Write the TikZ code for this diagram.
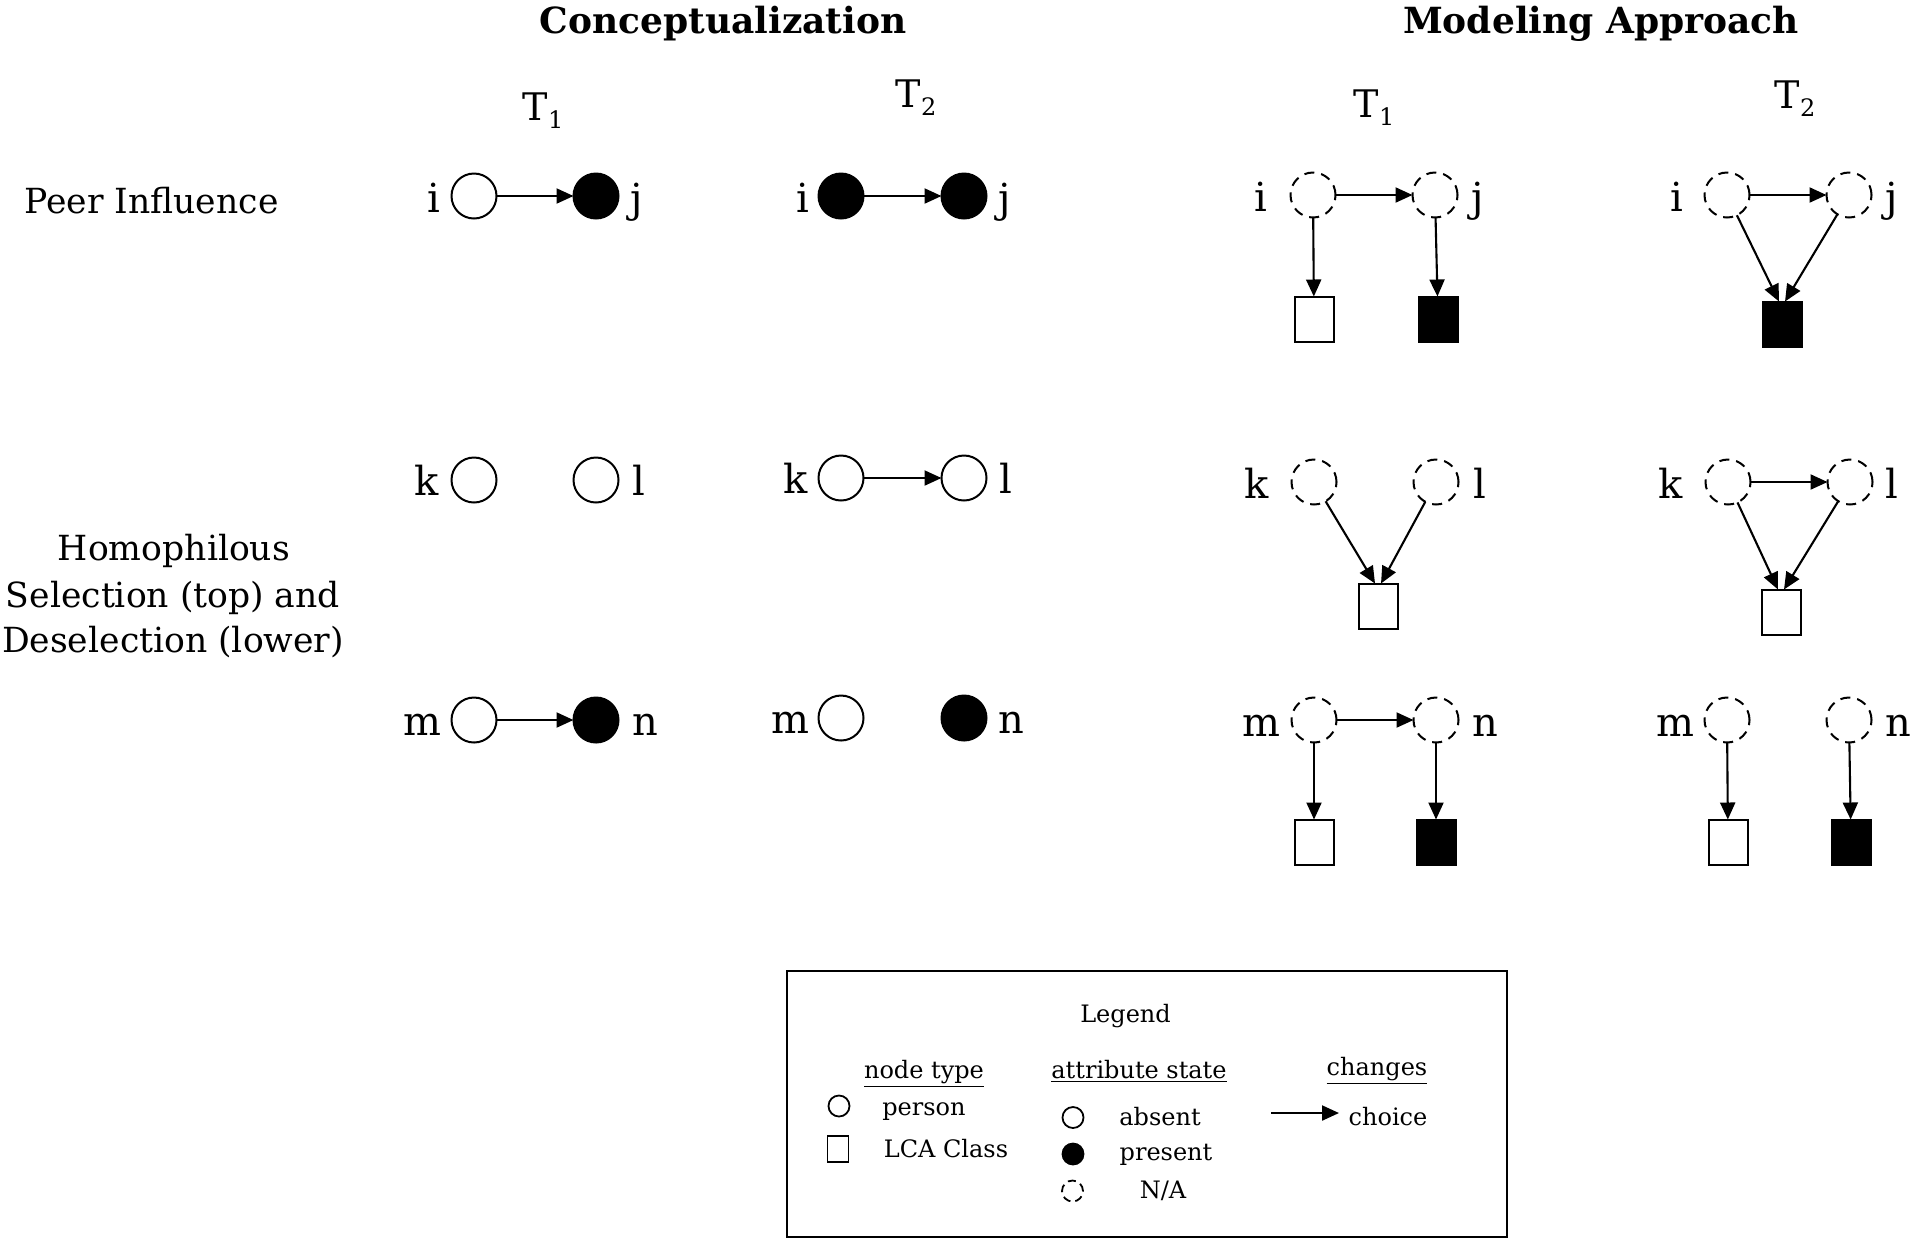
\documentclass[tikz,border=0pt]{standalone}
\usepackage{fontspec}
\setmainfont{DejaVu Serif}
\usetikzlibrary{arrows.meta}
\newcommand\Tsub[1]{T\lower4pt\hbox{\fontsize{12}{12}\selectfont #1}}
\begin{document}
\begin{tikzpicture}[x=0.5pt,y=-0.5pt,
  every node/.style={inner sep=0pt, outer sep=0pt},
  per/.style={circle, draw, line width=1pt, minimum size=22.5pt},
  opn/.style={per, fill=white},
  fil/.style={per, fill=black},
  na/.style={per, dash pattern=on 5pt off 3.5pt},
  cls/.style={rectangle, draw, line width=1pt, minimum width=19.5pt, minimum height=22.5pt},
  clsopen/.style={cls, fill=white},
  clsfil/.style={cls, fill=black},
  arr/.style={-{Triangle[length=8.5pt,width=7.5pt]}, line width=1.05pt},
  head/.style={font=\fontsize{18}{18}\selectfont\bfseries, anchor=base},
  tlab/.style={font=\fontsize{19}{19}\selectfont, anchor=base},
  rowlab/.style={font=\fontsize{17.3}{17.3}\selectfont, anchor=base},
  lab/.style={font=\fontsize{20}{20}\selectfont, anchor=base},
  leg/.style={font=\fontsize{12}{12}\selectfont, anchor=base},
  lcirc/.style={circle, draw, line width=0.9pt, minimum size=10.5pt},
]
\useasboundingbox (0,0) rectangle (1920,1244);

% headings
\node[head] (hc) at (723,33) {Conceptualization};
\node[head] (hm) at (1601,33) {Modeling Approach};
\node[tlab] (t1c) at (543,120) {\Tsub{1}};
\node[tlab] (t2c) at (916,107) {\Tsub{2}};
\node[tlab] (t1m) at (1374,117) {\Tsub{1}};
\node[tlab] (t2m) at (1795,108) {\Tsub{2}};

% row labels
\node[rowlab] (rp) at (151.5,213) {Peer Influence};
\node[rowlab] (h1) at (174,560) {Homophilous};
\node[rowlab] (h2) at (173,607) {Selection (top) and};
\node[rowlab] (h3) at (173,652) {Deselection (lower)};

% ---------- Conceptualization ----------
% row 1
\node[opn] (a1i) at (474,196) {};
\node[fil] (a1j) at (596,196) {};
\draw[arr] (a1i) -- (a1j);
\node[lab] (la1i) at (434,212) {i};
\node[lab] (la1j) at (637,212) {j};
\node[fil] (b1i) at (841,196) {};
\node[fil] (b1j) at (964,196) {};
\draw[arr] (b1i) -- (b1j);
\node[lab] (lb1i) at (803,212) {i};
\node[lab] (lb1j) at (1005,212) {j};
% row 2
\node[opn] (a2k) at (474,480) {};
\node[opn] (a2l) at (596,480) {};
\node[lab] (la2k) at (427,495) {k};
\node[lab] (la2l) at (639,495) {l};
\node[opn] (b2k) at (841,478) {};
\node[opn] (b2l) at (964,478) {};
\draw[arr] (b2k) -- (b2l);
\node[lab] (lb2k) at (796,493) {k};
\node[lab] (lb2l) at (1006,493) {l};
% row 3
\node[opn] (a3m) at (474,720) {};
\node[fil] (a3n) at (596,720) {};
\draw[arr] (a3m) -- (a3n);
\node[lab] (la3m) at (422,735) {m};
\node[lab] (la3n) at (645,735) {n};
\node[opn] (b3m) at (841,718) {};
\node[fil] (b3n) at (964,718) {};
\node[lab] (lb3m) at (790,733) {m};
\node[lab] (lb3n) at (1011,733) {n};

% ---------- Modeling Approach ----------
% row 1, T1
\node[na] (c1i) at (1313,195) {};
\node[na] (c1j) at (1435,195) {};
\draw[arr] (c1i) -- (c1j);
\node[lab] (lc1i) at (1261,211) {i};
\node[lab] (lc1j) at (1478,211) {j};
\node[clsopen] (s1a) at (1314,319) {};
\node[clsfil] (s1b) at (1438,319) {};
\draw[arr] (c1i) -- (s1a);
\draw[arr] (c1j) -- (s1b);
% row 1, T2
\node[na] (d1i) at (1727,195) {};
\node[na] (d1j) at (1849,195) {};
\draw[arr] (d1i) -- (d1j);
\node[lab] (ld1i) at (1677,211) {i};
\node[lab] (ld1j) at (1892,211) {j};
\node[clsfil] (s1c) at (1782,324) {};
\draw[arr] (d1i) -- ([xshift=-1.5pt]s1c.north);
\draw[arr] (d1j) -- ([xshift=1.5pt]s1c.north);
% row 2, T1
\node[na] (c2k) at (1314,482) {};
\node[na] (c2l) at (1436,482) {};
\node[lab] (lc2k) at (1257,498) {k};
\node[lab] (lc2l) at (1480,498) {l};
\node[clsopen] (s2a) at (1378,606) {};
\draw[arr] (c2k) -- ([xshift=-1.5pt]s2a.north);
\draw[arr] (c2l) -- ([xshift=1.5pt]s2a.north);
% row 2, T2
\node[na] (d2k) at (1728,482) {};
\node[na] (d2l) at (1850,482) {};
\draw[arr] (d2k) -- (d2l);
\node[lab] (ld2k) at (1671,498) {k};
\node[lab] (ld2l) at (1892,498) {l};
\node[clsopen] (s2b) at (1781,612) {};
\draw[arr] (d2k) -- ([xshift=-1.5pt]s2b.north);
\draw[arr] (d2l) -- ([xshift=1.5pt]s2b.north);
% row 3, T1
\node[na] (c3m) at (1314,720) {};
\node[na] (c3n) at (1436,720) {};
\draw[arr] (c3m) -- (c3n);
\node[lab] (lc3m) at (1261,736) {m};
\node[lab] (lc3n) at (1485,736) {n};
\node[clsopen] (s3a) at (1314,842) {};
\node[clsfil] (s3b) at (1436,842) {};
\draw[arr] (c3m) -- (s3a);
\draw[arr] (c3n) -- (s3b);
% row 3, T2
\node[na] (d3m) at (1727,720) {};
\node[na] (d3n) at (1849,720) {};
\node[lab] (ld3m) at (1675,736) {m};
\node[lab] (ld3n) at (1898,736) {n};
\node[clsopen] (s3c) at (1728,842) {};
\node[clsfil] (s3d) at (1851,842) {};
\draw[arr] (d3m) -- (s3c);
\draw[arr] (d3n) -- (s3d);

% ---------- Legend ----------
\node[draw, line width=1.2pt, minimum width=360pt, minimum height=133pt] (lg) at (1147,1104) {};
\node[leg] (lgt) at (1125.5,1022) {Legend};
\node[leg] (lnt) at (924,1078) {\underline{node type}};
\node[leg] (las) at (1139,1078) {\underline{attribute state}};
\node[leg] (lch) at (1377,1075) {\underline{changes}};
\node[lcirc] (lp) at (839,1106) {};
\node[leg] (lpt) at (924,1115) {person};
\node[rectangle, draw, line width=0.9pt, minimum width=10.5pt, minimum height=13pt] (lsq) at (838,1149) {};
\node[leg] (lsqt) at (946,1157) {LCA Class};
\node[lcirc] (lab1) at (1073,1117.5) {};
\node[leg] (labt) at (1160,1125) {absent};
\node[lcirc, fill=black] (lpr) at (1073,1154) {};
\node[leg] (lprt) at (1166,1160) {present};
\node[lcirc, dash pattern=on 4pt off 2.5pt] (lna) at (1072.5,1191) {};
\node[leg] (lnat) at (1163,1198) {N/A};
\coordinate (lar1) at (1271,1113);
\coordinate (lar2) at (1339,1113);
\draw[arr] (lar1) -- (lar2);
\node[leg] (lcht) at (1388,1125) {choice};
\end{tikzpicture}
\end{document}
